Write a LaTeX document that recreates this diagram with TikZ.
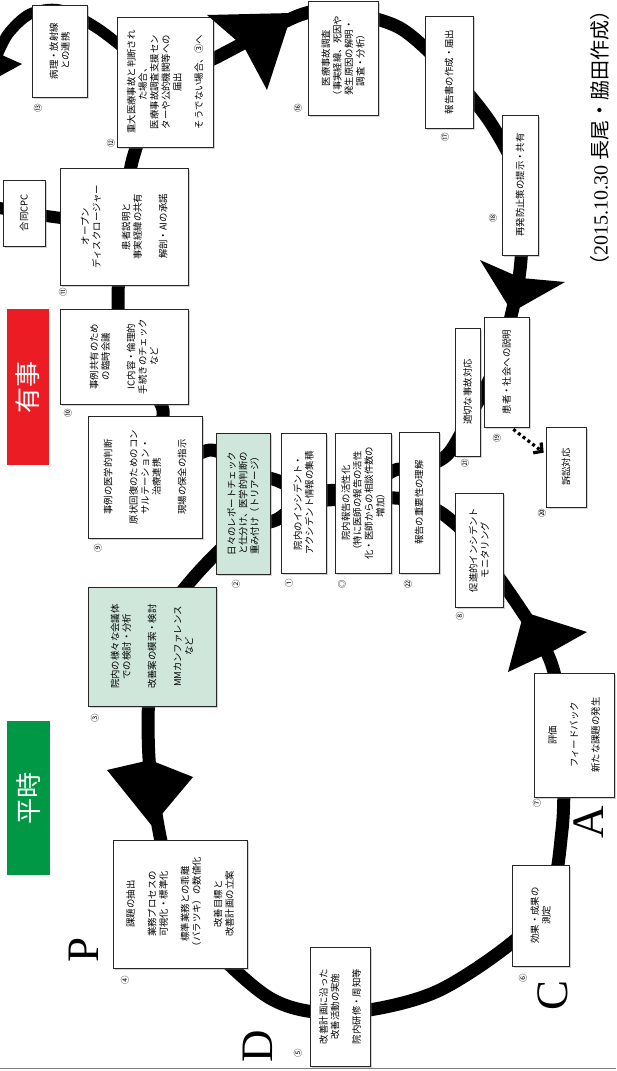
\documentclass[tikz,border=0pt]{standalone}
\usepackage{fontspec}
\setmainfont{Liberation Serif}
\newfontfamily\jp{Noto Sans CJK JP}
\usetikzlibrary{fit,shadows,calc,arrows.meta}
\pgfdeclarelayer{bg}
\pgfsetlayers{bg,main}
\definecolor{mint}{RGB}{206,231,218}
\definecolor{tagred}{RGB}{236,28,36}
\definecolor{taggreen}{RGB}{0,152,68}
\begin{document}
\begin{tikzpicture}[x=1pt, y=-1pt,
  box/.style={draw=black!85, line width=0.7pt, fill=white, inner sep=0pt,
    drop shadow={shadow xshift=1.6pt, shadow yshift=-1.6pt, opacity=0.35}},
  mintbox/.style={box, fill=mint},
  txt/.style={rotate=90, align=center, inner sep=0pt, font=\jp\fontsize{9.4}{11.5}\selectfont},
  num/.style={rotate=90, inner sep=0pt, font=\jp\fontsize{8.5}{9}\selectfont},
  ring/.style={line width=13pt, line join=round},
  head/.style={fill=black},
  tagbox/.style={inner sep=0pt},
  tag/.style={rotate=90, text=white, inner sep=0pt, font=\jp\fontsize{26}{26}\selectfont},
  phase/.style={rotate=90, inner sep=0pt, text height=0.68em, text depth=0pt,
    font=\fontsize{45}{45}\selectfont},
  dotarrow/.style={line width=3.2pt, dash pattern=on 3pt off 3pt,
    -{Straight Barb[length=6pt,width=13pt]}},
]
\useasboundingbox (0,0) rectangle (616,1071);
\clip (0,0) rectangle (616,1071);

% ---- boxes ----
\node[box, fit={(32,5)(87,97)}] (b13) {};
\node[box, fit={(117,17)(213,147)}] (b12) {};
\node[box, fit={(60,168)(188,285)}] (b11) {};
\node[box, fit={(3,180)(45,246)}] (cpc) {};
\node[box, fit={(60,309)(188,404)}] (b10) {};
\node[box, fit={(88,416)(202,538)}] (b9) {};
\node[mintbox, fit={(216,433)(270,574)}] (b2) {};
\node[box, fit={(281,433)(326,573)}] (b1) {};
\node[box, fit={(335,433)(391,573)}] (b20) {};
\node[box, fit={(399,432)(439,573)}] (b22) {};
\node[box, fit={(455,493)(503,607)}] (b8) {};
\node[box, fit={(455,328)(480,456)}] (b21) {};
\node[box, fit={(484,317)(529,427)}] (b19) {};
\node[box, fit={(546,427)(586,507)}] (bsuit) {};
\node[box, fit={(502,115)(538,255)}] (b18) {};
\node[box, fit={(425,16)(473,128)}] (b17) {};
\node[box, fit={(308,1)(378,115)}] (b16) {};
\node[mintbox, fit={(88,587)(216,706)}] (b3) {};
\node[box, fit={(113,840)(247,968)}] (b4) {};
\node[box, fit={(310,947)(370,1066)}] (b5) {};
\node[box, fit={(512,865)(569,966)}] (b6) {};
\node[box, fit={(534,673)(614,797)}] (b7) {};

% ---- waypoints of the two cycles ----
\coordinate (L1) at (150,770);
\coordinate (L2) at (265,995);
\coordinate (L3) at (340,1013);
\coordinate (L4) at (440,990);
\coordinate (L5) at (562,830);
\coordinate (L6) at (562,735);
\coordinate (L7) at (548,655);
\coordinate (L8) at (447,517);
\coordinate (L9) at (420,502);
\coordinate (L10) at (395,498);
\coordinate (L11) at (363,498);
\coordinate (L12) at (276,520);
\coordinate (L13) at (243,530);
\coordinate (L14) at (205,565);
\coordinate (L15) at (172,605);

\coordinate (U1) at (243,470);
\coordinate (U2) at (210,450);
\coordinate (U3) at (163,410);
\coordinate (U4) at (118,297);
\coordinate (U5) at (133,158);
\coordinate (U6) at (215,58);
\coordinate (U7) at (300,15);
\coordinate (U8) at (343,12);
\coordinate (U9) at (400,28);
\coordinate (U10) at (492,125);
\coordinate (U11) at (520,270);
\coordinate (U12) at (500,355);
\coordinate (U13) at (468,420);
\coordinate (U14) at (447,455);
\coordinate (U15) at (420,468);
\coordinate (U16) at (395,470);
\coordinate (U17) at (363,488);
\coordinate (U18) at (303,490);
\coordinate (U19) at (276,480);

\coordinate (S1) at (100,30);
\coordinate (S2) at (60,10);
\coordinate (S3) at (30,14);
\coordinate (S4) at (8,34);
\coordinate (S5) at (-5,60);
\coordinate (C1) at (-5,207);

\begin{pgfonlayer}{bg}
  % improvement cycle (PDCA)
  \draw[ring] plot[smooth cycle, tension=0.5] coordinates {
    (b3.center) (L1) (b4.center) (L2) (L3) (L4) (b6.center) (L5) (L6) (L7)
    (b8.center) (L8) (L9) (L10) (L11) (b1.center) (L12) (L13) (L14) (L15)};
  % incident cycle
  \draw[ring] plot[smooth cycle, tension=0.5] coordinates {
    (U1) (U2) (b9.center) (U3) (b10.center) (U4) (b11.center) (U5) (b12.center)
    (U6) (U7) (U8) (U9) (b17.center) (U10) (b18.center) (U11) (U12) (U13) (U14)
    (U15) (U16) (U17) (U18) (U19)};
  % branch to pathology / radiology
  \draw[ring, line width=11pt] plot[smooth, tension=0.5] coordinates {
    (b12.center) (S1) (S2) (S3) (S4) (S5)};
  % branch to joint CPC
  \draw[ring, line width=12pt] (b11.center) -- (cpc.center) -- (C1);
\end{pgfonlayer}

% ---- arrowheads on the cycles ----
\fill[head] (107,770) -- (152,826) -- (193,777) -- (150,760) -- cycle;
\fill[head] (508,672) -- (524,612) -- (587,632) -- (555,650) -- cycle;
\fill[head] (480,260) -- (512,312) -- (565,282) -- (521,278) -- cycle;
\fill[head] (207,15) -- (292,13) -- (267,90) -- (244,47) -- cycle;
\fill[head] (22,64) -- (-20,87) -- (-22,40) -- (4,56) -- cycle;

% ---- box texts ----
\node[txt] (t13) at (b13) {病理・放射線\\との連携};
\node[txt] (t12) at (b12) {重大医療事故と判断され\\た場合、\\医療事故調査支援セン\\ターや公的機関等への\\届出\\[10pt]そうでない場合、③へ};
\node[txt] (t11) at (b11) {オープン\\ディスクロージャー\\[18pt]患者説明と\\事実経緯の共有\\[14pt]解剖・AIの承諾};
\node[txt] (tcpc) at (cpc) {合同CPC};
\node[txt] (t10) at (b10) {事例共有のため\\の臨時会議\\[14pt]IC内容・倫理的\\手続きのチェック\\など};
\node[txt] (t9) at (b9) {事例の医学的判断\\[14pt]原状回復のためのコン\\サルテーション・\\治療連携\\[14pt]現場の保全の指示};
\node[txt] (t2) at (b2) {日々のレポートチェック\\と仕分け、医学的判断の\\重み付け（トリアージ）};
\node[txt] (t1) at (b1) {院内のインシデント・\\アクシデント情報の集積};
\node[txt] (t20) at (b20) {院内報告の活性化\\（特に医師の報告の活性\\化・医師からの相談件数の\\増加）};
\node[txt] (t22) at (b22) {報告の重要性の理解};
\node[txt] (t8) at (b8) {促進的インシデント\\モニタリング};
\node[txt] (t21) at (b21) {適切な事故対応};
\node[txt] (t19) at (b19) {患者・社会への説明};
\node[txt] (tsuit) at (bsuit) {訴訟対応};
\node[txt] (t18) at (b18) {再発防止策の提示・共有};
\node[txt] (t17) at (b17) {報告書の作成・届出};
\node[txt] (t16) at (b16) {医療事故調査\\（事実経緯、死因や\\発生原因の解明・\\調査・分析）};
\node[txt] (t3) at (b3) {院内の様々な会議体\\での検討・分析\\[14pt]改善案の模索・検討\\[14pt]MMカンファレンス\\など};
\node[txt] (t4) at (b4) {課題の抽出\\[10pt]業務プロセスの\\可視化・標準化\\[10pt]標準業務との乖離\\（バラツキ）の数値化\\[10pt]改善目標と\\改善計画の立案};
\node[txt] (t5) at (b5) {改善計画に沿った\\改善活動の実施\\[10pt]院内研修・周知等};
\node[txt] (t6) at (b6) {効果・成果の\\測定};
\node[txt] (t7) at (b7) {評価\\[10pt]フィードバック\\[10pt]新たな課題の発生};

% ---- litigation link ----
\draw[dotarrow] ($(b19.south east)+(-16,2)$) -- ($(bsuit.north west)+(-2,26)$);

% ---- step numbers ----
\node[num] (n13) at (38,108) {⑬};
\node[num] (n12) at (111,143) {⑫};
\node[num] (n11) at (63,292) {⑪};
\node[num] (n10) at (68,413) {⑩};
\node[num] (n9) at (98,548) {⑨};
\node[num] (n3) at (95,718) {③};
\node[num] (n2) at (236,584) {②};
\node[num] (n1) at (289,583) {①};
\node[num] (n0) at (342,584) {◎};
\node[num] (n22) at (408,584) {㉒};
\node[num] (n8) at (460,616) {⑧};
\node[num] (n21) at (465,463) {㉑};
\node[num] (n19) at (497,438) {⑲};
\node[num] (n20) at (542,513) {⑳};
\node[num] (n18) at (493,218) {⑱};
\node[num] (n17) at (445,137) {⑰};
\node[num] (n16) at (298,108) {⑯};
\node[num] (n4) at (125,980) {④};
\node[num] (n5) at (298,1053) {⑤};
\node[num] (n6) at (523,978) {⑥};
\node[num] (n7) at (537,803) {⑦};

% ---- mode tags ----
\node[tagbox, fill=tagred, fit={(7,309)(49,465)}] (emerg) {};
\node[tag] (temerg) at (emerg) {有事};
\node[tagbox, fill=taggreen, fit={(7,721)(50,875)}] (normal) {};
\node[tag] (tnormal) at (normal) {平時};

% ---- PDCA letters ----
\node[phase] (lp) at (95,950) {P};
\node[phase] (ld) at (269,1046) {D};
\node[phase] (lc) at (564,995) {C};
\node[phase] (la) at (600,822) {A};

% ---- credit ----
\node[rotate=90, inner sep=0pt, font=\fontsize{20}{20}\selectfont] (credit) at (600,138)
  {{\jp （}2015.10.30 {\jp 長尾・脇田作成）}};

% ---- bottom rule ----
\draw[black!50, line width=1pt] (0,1068) -- (616,1068);
\end{tikzpicture}
\end{document}
